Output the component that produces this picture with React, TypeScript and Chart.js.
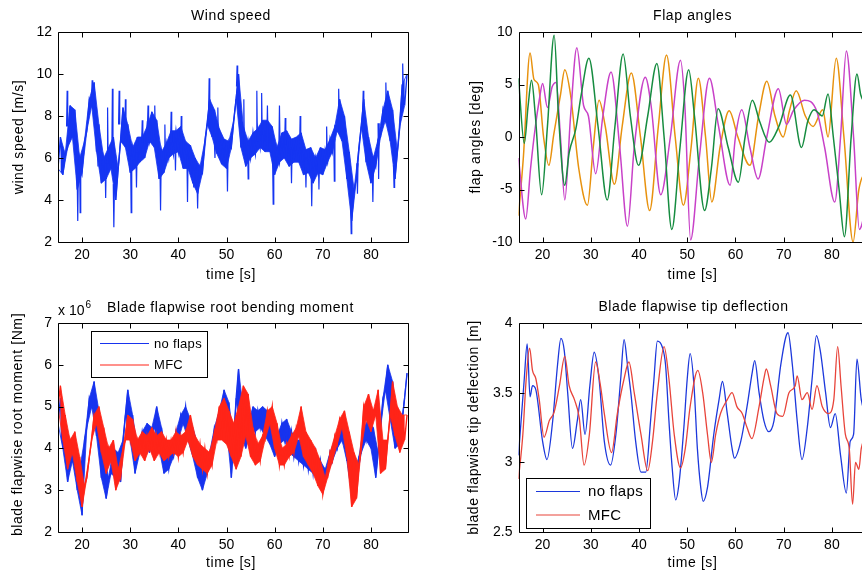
import React, { useEffect, useRef } from "react";
import { Chart, registerables } from "chart.js";

Chart.register(...registerables);

const FONT = '"Liberation Sans", Arial, Helvetica, sans-serif';

// ---------- shared time axis ----------
const timeMin = 15;
const timeMax = 87.7;
const timeTicks = [20, 30, 40, 50, 60, 70, 80];

// ---------- wind speed: core band low/high every 1 s from t = 15, plus the spikes ----------
const windStart = 15;
const windLow = [
  5.5, 5.2, 6.5, 7.0, 4.5, 5.3, 7.3, 8.5, 6.3, 4.8,
  5.0, 5.5, 4.0, 6.8, 6.5, 5.3, 5.5, 5.8, 6.0, 6.8,
  6.5, 5.0, 5.3, 6.0, 6.2, 6.3, 5.5, 5.5, 4.8, 4.3,
  5.3, 7.6, 7.0, 6.2, 5.7, 5.5, 6.5, 8.8, 6.5, 5.6,
  6.0, 6.2, 6.5, 6.3, 6.3, 5.2, 5.8, 6.0, 5.6, 5.8,
  5.8, 5.2, 5.3, 4.8, 5.3, 5.2, 5.8, 6.3, 7.3, 6.8,
  5.0, 3.0, 5.0, 7.5, 5.8, 4.8, 5.6, 7.0, 7.8, 6.8,
  5.0, 7.5, 8.5,
];
const windHigh = [
  7.0, 6.2, 8.5, 8.3, 6.0, 6.8, 8.8, 9.6, 7.6, 6.0,
  6.5, 7.0, 5.5, 8.4, 7.6, 6.5, 7.0, 7.0, 7.5, 8.2,
  7.8, 6.3, 6.7, 7.3, 7.3, 7.5, 6.8, 6.6, 6.0, 5.6,
  6.8, 8.8, 8.3, 7.4, 6.9, 6.8, 7.8, 10.0, 7.5, 6.8,
  7.2, 7.4, 7.8, 7.8, 7.5, 6.5, 7.2, 7.3, 6.9, 7.0,
  7.2, 6.4, 6.5, 6.0, 6.5, 6.4, 6.9, 7.5, 8.8, 8.0,
  6.3, 4.5, 6.5, 8.8, 7.0, 6.0, 6.9, 8.3, 9.2, 8.3,
  6.3, 9.5, 10.0,
];
const windSpikeT = [16.9, 19.1, 19.6, 22.1, 23.3, 24.9, 25.3, 26.3, 26.6, 27.7, 29.0, 30.2, 31.3, 32.5, 33.7, 35.1, 36.3, 37.2, 38.5, 39.4, 40.6, 41.9, 43.2, 44.0, 46.4, 47.6, 48.2, 50.2, 52.2, 53.6, 54.5, 56.3, 57.3, 58.5, 59.7, 61.0, 62.2, 63.5, 65.3, 66.5, 67.7, 69.2, 70.8, 72.4, 73.3, 75.9, 77.2, 78.4, 80.4, 81.6, 83.1, 84.8, 86.6];
const windSpikeV = [9.2, 3.0, 3.4, 9.7, 5.6, 4.1, 8.4, 9.3, 2.7, 9.2, 8.8, 3.4, 4.6, 7.8, 8.5, 8.5, 3.5, 7.6, 8.2, 5.4, 8.0, 3.9, 4.6, 3.6, 9.8, 6.0, 8.4, 4.4, 10.4, 8.8, 5.0, 9.2, 9.1, 8.5, 3.8, 8.5, 7.9, 4.8, 8.0, 4.6, 3.7, 4.5, 7.5, 4.9, 9.3, 2.4, 4.3, 9.2, 3.9, 5.0, 9.6, 4.6, 10.5];
const windTicks = [2, 4, 6, 8, 10, 12];

// ---------- flap angles (turning points) ----------
const flapOrangeT = [15, 16, 17.4, 18.2, 19.1, 20.2, 21.3, 22.3, 23.7, 24.6, 25.8, 27.5, 29.3, 30.5, 31.7, 33, 34.9, 36.5, 38.4, 40.3, 42.2, 44, 45.7, 47.5, 49.2, 50.8, 52.3, 53.8, 55.1, 56.8, 58.7, 60.5, 63, 64.8, 66.5, 68.2, 69.9, 71.2, 72.6, 74.5, 76.1, 78.1, 79.2, 80.9, 82.5, 84.4, 85.6, 87.7];
const flapOrangeV = [-7.5, -2, 8.0, 5.5, 5.0, 0, -2.7, 0.2, 4, 6.4, 4, -3, -6.5, -1, 3.5, 1, -4.5, 1, 6.1, 0, -7, 1, 7.8, 0, -6.5, -1, 5.6, 0, -6.2, -1, 2.5, 0, -2.7, 2, 5.3, 2, 0, 2.5, 4.4, 2, 1, 2.6, 0, 7.5, 0, -10, -5, -3];
const flapMagentaT = [15, 16.5, 17.5, 18.5, 19.3, 20, 21, 22, 22.8, 23.7, 24.6, 25.8, 27.1, 28.5, 29.5, 31, 32.5, 34.2, 36, 37.6, 39, 41.3, 42.5, 44.5, 46.5, 48.6, 49.5, 50.7, 52.5, 54.6, 56.5, 58.9, 60, 61.3, 63, 64.7, 66.5, 68.9, 70.6, 72, 74.3, 76.9, 78.5, 80.6, 81.8, 83, 84.5, 85.7, 87.7];
const flapMagentaV = [-2, -7.8, -3, 1, 3.5, 5.1, 2.8, 4.8, 5.2, 0, -6, 2, 8.5, 3, 2, -3.5, 2, 6.2, -1, -8.5, -1, 5.7, 3, -5.5, 0, 7.3, 3, -9.8, -2, 5.6, 1, -4.6, 0, 2.6, -1, -4, 0, 4.6, 1.2, 2.5, 3.5, 2.4, -1, -6.2, 0, 8.2, 0, -8.8, -5];
const flapGreenT = [15, 16.2, 17, 17.7, 18.5, 19.8, 21, 22.4, 23.3, 24.6, 25.5, 26.9, 28, 29.6, 31.5, 33.4, 35, 36.7, 38.2, 39.9, 41.8, 43.7, 45.2, 46.8, 48.5, 50.3, 51.5, 53.6, 55, 56.4, 58.5, 60.6, 62, 63.5, 65, 67, 69, 71.4, 73.7, 75, 76.3, 78, 79.2, 80.3, 81.5, 82.6, 84, 85.2, 86, 87.7];
const flapGreenV = [5.6, -0.6, 3, 5.4, 2, -5.5, 1, 9.7, 2, -4.6, -1.5, 0.8, 4, 7.5, 1, -6, 1, 7.9, 2, -2.7, 2, 7, 0, -8.8, -1, 6.4, 2, -7, -3, 2.7, -1, -4.3, 0, 3.5, 1.5, -0.5, 1, 4.0, -1, 1.5, 2.6, 2, 4.1, 0, -5, -9.5, 0, 6, 4, 2.9];
const flapTicks = [-10, -5, 0, 5, 10];

// ---------- root bending moment, x 10^6 Nm (every 0.5 s, alternating band low/high) ----------
const momentStart = 15;
const momentStep = 0.5;
const momentNoFlaps = [
  4.6, 5.2, 4.0, 4.5, 3.2, 3.8, 3.7, 4.3, 3.0, 3.5,
  2.4, 4.2, 4.5, 5.2, 5.0, 5.6, 4.3, 4.9, 3.3, 3.9,
  2.8, 3.3, 3.4, 4.0, 3.3, 3.9, 3.2, 4.2, 4.8, 5.4,
  4.2, 4.8, 3.4, 4.0, 3.9, 4.4, 4.1, 4.6, 3.9, 4.5,
  4.5, 5.0, 4.0, 4.5, 3.4, 3.9, 3.5, 4.0, 3.8, 4.4,
  4.2, 4.8, 4.6, 5.0, 4.2, 4.7, 3.8, 4.3, 3.3, 3.8,
  3.0, 3.5, 3.4, 3.9, 3.9, 4.5, 4.3, 4.9, 4.9, 5.4,
  4.5, 5.1, 3.3, 4.2, 5.2, 5.9, 4.3, 4.9, 4.0, 4.6,
  4.4, 5.0, 4.4, 4.9, 4.5, 5.0, 4.3, 4.9, 4.1, 4.6,
  3.8, 4.3, 4.1, 4.6, 4.2, 4.7, 3.9, 4.4, 3.8, 4.2,
  3.7, 4.2, 3.6, 4.1, 3.5, 4.0, 3.4, 3.9, 3.3, 3.7,
  3.0, 3.5, 3.4, 3.9, 3.7, 4.2, 4.0, 4.5, 4.2, 4.7,
  3.7, 4.2, 2.9, 3.4, 3.2, 3.8, 3.9, 4.5, 4.2, 4.7,
  4.0, 4.5, 3.3, 3.9, 4.5, 5.2, 5.4, 6.0, 4.7, 5.6,
  4.0, 4.5, 4.1, 4.7, 5.2, 5.8,
];
const momentMFC = [
  5.0, 5.5, 4.2, 4.8, 3.5, 4.2, 3.9, 4.4, 3.2, 3.8,
  2.6, 3.1, 3.3, 3.8, 4.2, 4.8, 4.6, 5.0, 3.9, 4.5,
  3.4, 4.0, 3.7, 4.2, 3.0, 3.5, 3.3, 4.0, 4.2, 4.8,
  4.2, 4.7, 3.7, 4.2, 3.9, 4.4, 3.7, 4.3, 4.0, 4.5,
  3.7, 4.3, 3.9, 4.4, 3.7, 4.2, 3.8, 4.2, 3.9, 4.4,
  3.8, 4.3, 3.9, 4.4, 4.2, 4.8, 3.8, 4.3, 3.6, 4.1,
  3.5, 4.0, 3.4, 3.9, 3.6, 4.4, 4.2, 5.0, 4.2, 5.2,
  4.1, 4.9, 3.8, 4.6, 3.5, 5.0, 3.8, 5.5, 4.3, 5.3,
  3.8, 4.5, 3.6, 4.1, 3.7, 4.3, 4.2, 4.9, 4.6, 5.0,
  4.0, 4.6, 3.6, 4.0, 3.6, 4.1, 3.8, 4.3, 3.9, 4.5,
  4.3, 5.0, 3.8, 4.4, 3.6, 4.2, 3.4, 4.0, 3.1, 3.7,
  2.9, 3.3, 3.3, 3.9, 3.7, 4.3, 4.1, 4.7, 4.5, 4.9,
  3.8, 4.4, 2.6, 3.9, 2.8, 3.6, 4.0, 5.0, 4.7, 5.3,
  4.4, 4.9, 4.8, 5.4, 3.4, 4.2, 3.5, 4.2, 4.8, 5.6,
  4.3, 5.0, 3.9, 4.8, 4.2, 4.8,
];
const momentTicks = [2, 3, 4, 5, 6, 7];
const legendLabels = ["no flaps", "MFC"];

// ---------- tip deflection, m (turning points) ----------
const tipNoFlapsT = [15, 16.2, 16.8, 17.4, 17.9, 18.6, 20, 20.9, 22.1, 23.1, 23.8, 24.5, 25.2, 26.2, 27.2, 27.9, 28.8, 29.8, 30.7, 31.7, 32.8, 34.1, 35.2, 36.2, 36.9, 37.6, 38.3, 39.3, 40.4, 41.4, 42.4, 43.1, 43.8, 44.8, 45.5, 46.2, 46.9, 47.6, 48.3, 49.3, 50, 50.6, 51.4, 52.1, 52.8, 53.3, 54.2, 55.5, 56.6, 57.3, 58.3, 59.3, 59.8, 61.1, 62.4, 63.5, 64, 64.9, 65.9, 66.9, 68, 69.4, 70.9, 71.8, 72.8, 73.8, 74.9, 75.9, 76.8, 77.6, 78.7, 79.7, 80.7, 81.8, 83, 83.8, 84.5, 85.2, 86.1, 87.7];
const tipNoFlapsV = [3.05, 3.6, 3.85, 3.47, 3.55, 3.52, 3.15, 3.02, 3.3, 3.7, 3.89, 3.8, 3.5, 3.1, 3.3, 3.45, 3.2, 3.55, 3.79, 3.6, 3.15, 2.98, 3.2, 3.6, 3.88, 3.7, 3.5, 3.15, 2.93, 2.93, 3.3, 3.6, 3.87, 3.83, 3.7, 3.3, 2.95, 2.73, 2.85, 3.25, 3.6, 3.78, 3.55, 3.1, 2.82, 2.72, 2.82, 3.2, 3.45, 3.58, 3.35, 3.1, 3.03, 3.15, 3.4, 3.65, 3.73, 3.5, 3.3, 3.22, 3.3, 3.7, 3.93, 3.7, 3.3, 3.02, 3.25, 3.6, 3.91, 3.8, 3.5, 3.25, 3.35, 3.05, 2.78, 3.15, 3.2, 3.74, 3.45, 3.3];
const tipMFCT = [15, 15.9, 16.6, 17.3, 17.9, 18.6, 19.3, 20.3, 21.4, 22.4, 23.5, 24.6, 25.5, 26.6, 27.6, 28.6, 29.7, 31, 32, 32.8, 34.3, 35.5, 36.9, 37.9, 39, 40.4, 41.8, 42.8, 43.8, 45.2, 46.2, 47.3, 48.6, 49.6, 50.6, 52.2, 53.2, 54.2, 55, 55.9, 56.9, 58.3, 59.3, 60.3, 61.4, 62.4, 63.4, 64.9, 65.9, 66.4, 67.3, 68.6, 69.8, 71.1, 72.4, 72.8, 73.8, 74.9, 75.9, 76.9, 78, 79.3, 80.4, 81.2, 81.9, 82.8, 83.6, 84.3, 84.9, 85.6, 86.1, 87.7];
const tipMFCV = [2.88, 3.2, 3.6, 3.82, 3.66, 3.6, 3.45, 3.18, 3.3, 3.36, 3.55, 3.76, 3.55, 3.45, 3.32, 2.98, 3.2, 3.72, 3.55, 3.35, 3.07, 3.35, 3.6, 3.72, 3.5, 3.2, 2.94, 3.15, 3.5, 3.83, 3.6, 3.2, 2.96, 3.1, 3.4, 3.66, 3.5, 3.2, 3.0, 3.2, 3.35, 3.45, 3.5, 3.4, 3.35, 3.25, 3.17, 3.4, 3.6, 3.67, 3.55, 3.35, 3.33, 3.5, 3.55, 3.62, 3.45, 3.5, 3.38, 3.55, 3.4, 3.35, 3.45, 3.83, 3.55, 3.2, 3.1, 2.7, 3.0, 2.95, 3.1, 3.2];
const tipTicks = [2.5, 3, 3.5, 4];

// ---------- helpers ----------
const onGrid = (start: number, step: number, values: number[]) =>
  values.map((y, i) => ({ x: start + i * step, y }));
const paired = (t: number[], v: number[]) => t.map((x, i) => ({ x, y: v[i] }));
const everyOther = (pts: any[], parity: number) => pts.filter((_p, i) => i % 2 === parity);
// band drawn as a dense zig-zag: low at t, high half a second later
const bandZigzag = (start: number, low: number[], high: number[]) => {
  const pts: any[] = [];
  low.forEach((lo, i) => {
    pts.push({ x: start + i, y: lo });
    pts.push({ x: start + i + 0.5, y: high[i] });
  });
  return pts;
};
// spikes: thin excursions from the band to the read spike value
const spikes = (start: number, low: number[], high: number[], t: number[], v: number[]) => {
  const pts: any[] = [];
  t.forEach((x, i) => {
    const k = Math.min(low.length - 1, Math.max(0, Math.round(x - start)));
    const base = (low[k] + high[k]) / 2;
    pts.push({ x: x - 0.12, y: base });
    pts.push({ x, y: v[i] });
    pts.push({ x: x + 0.12, y: base });
    pts.push({ x: x + 0.13, y: null });
  });
  return pts;
};

const decorPlugin = {
  id: "decor",
  afterDraw(chart: any, _args: any, o: any) {
    const { ctx, chartArea: a, scales } = chart;
    const L = Math.round(a.left) + 0.5;
    const R = Math.round(a.right) + 0.5;
    const T = Math.round(a.top) + 0.5;
    const B = Math.round(a.bottom) + 0.5;
    ctx.save();
    ctx.strokeStyle = "#000";
    ctx.lineWidth = 1;
    ctx.beginPath();
    ctx.rect(L, T, R - L, B - T);
    const tl = 5;
    scales.x.ticks.forEach((t: any) => {
      const px = Math.round(scales.x.getPixelForValue(t.value)) + 0.5;
      ctx.moveTo(px, B);
      ctx.lineTo(px, B - tl);
      ctx.moveTo(px, T);
      ctx.lineTo(px, T + tl);
    });
    scales.y.ticks.forEach((t: any) => {
      const py = Math.round(scales.y.getPixelForValue(t.value)) + 0.5;
      ctx.moveTo(L, py);
      ctx.lineTo(L + tl, py);
      ctx.moveTo(R, py);
      ctx.lineTo(R - tl, py);
    });
    ctx.stroke();

    ctx.fillStyle = "#000";
    ctx.font = `14px ${FONT}`;
    (ctx as any).letterSpacing = "0.6px";
    ctx.textAlign = "center";
    ctx.textBaseline = "alphabetic";
    ctx.fillText(o.title, o.titleX, o.titleY);
    ctx.fillText(o.xLabel, o.xLabelX, o.xLabelY);
    ctx.save();
    ctx.translate(o.yLabelX, (a.top + a.bottom) / 2 + (o.yLabelDy || 0));
    ctx.rotate(-Math.PI / 2);
    ctx.textBaseline = "middle";
    ctx.fillText(o.yLabel, 0, 0);
    ctx.restore();

    if (o.exponent) {
      (ctx as any).letterSpacing = "0px";
      ctx.textAlign = "left";
      ctx.font = `14px ${FONT}`;
      ctx.fillText(o.exponent.base, o.exponent.x, o.exponent.y);
      const w = ctx.measureText(o.exponent.base).width;
      ctx.font = `10px ${FONT}`;
      ctx.fillText(o.exponent.power, o.exponent.x + w + 1, o.exponent.y - 7);
    }

    if (o.legend) {
      const lg = o.legend;
      (ctx as any).letterSpacing = "0.3px";
      ctx.fillStyle = "#fff";
      ctx.fillRect(lg.x, lg.y, lg.w, lg.h);
      ctx.strokeStyle = "#000";
      ctx.lineWidth = 1;
      ctx.strokeRect(lg.x + 0.5, lg.y + 0.5, lg.w, lg.h);
      lg.items.forEach((it: any, i: number) => {
        const y = lg.rows[i];
        ctx.strokeStyle = it.color;
        ctx.lineWidth = 1.2;
        ctx.beginPath();
        ctx.moveTo(lg.lineX1, y + 0.5);
        ctx.lineTo(lg.lineX2, y + 0.5);
        ctx.stroke();
        ctx.fillStyle = "#000";
        ctx.font = `${lg.fontSize}px ${FONT}`;
        ctx.textAlign = "left";
        ctx.textBaseline = "middle";
        ctx.fillText(it.label, lg.textX, y + 1);
      });
    }
    ctx.restore();
  },
};

type Area = { left: number; top: number; right: number; bottom: number };

function makeConfig(spec: any) {
  const { width, height, area } = spec;
  const tickFont = { family: FONT, size: 14 };
  return {
    type: "line",
    data: { datasets: spec.datasets },
    plugins: [decorPlugin],
    options: {
      animation: false,
      responsive: false,
      events: [],
      spanGaps: false,
      layout: { padding: { top: area.top, right: width - area.right, left: 0, bottom: 0 } },
      plugins: {
        legend: { display: false },
        tooltip: { enabled: false },
        title: { display: false },
        filler: { propagate: false },
        decor: spec.decor,
      },
      elements: { point: { radius: 0 } },
      scales: {
        x: {
          type: "linear",
          min: timeMin,
          max: timeMax,
          grid: { display: false, drawTicks: false },
          border: { display: false },
          ticks: {
            font: tickFont,
            color: "#000",
            padding: 5,
            maxRotation: 0,
            autoSkip: false,
            callback: (v: any) => String(v),
          },
          afterBuildTicks: (s: any) => {
            s.ticks = timeTicks.map((value) => ({ value }));
          },
          afterFit: (s: any) => {
            s.height = height - area.bottom;
          },
        },
        y: {
          type: "linear",
          min: spec.yMin,
          max: spec.yMax,
          grid: { display: false, drawTicks: false },
          border: { display: false },
          ticks: {
            font: tickFont,
            color: "#000",
            padding: 6,
            autoSkip: false,
            callback: (v: any) => String(v),
          },
          afterBuildTicks: (s: any) => {
            s.ticks = spec.yTicks.map((value: number) => ({ value }));
          },
          afterFit: (s: any) => {
            s.width = area.left;
          },
        },
      },
    },
  };
}

function Panel({ spec }: { spec: any }) {
  const ref = useRef<HTMLCanvasElement>(null);
  useEffect(() => {
    const chart = new Chart(ref.current as HTMLCanvasElement, makeConfig(spec) as any);
    return () => chart.destroy();
  }, []);
  return (
    <div style={{ position: "absolute", left: spec.left, top: spec.top, width: spec.width, height: spec.height }}>
      <canvas ref={ref} width={spec.width} height={spec.height} style={{ display: "block", width: spec.width, height: spec.height }} />
    </div>
  );
}

const line = (data: any[], color: string, width: number, order: number, smooth = false) => ({
  data,
  order,
  borderColor: color,
  backgroundColor: color,
  borderWidth: width,
  pointRadius: 0,
  fill: false,
  clip: 0,
  spanGaps: false,
  tension: smooth ? 0.4 : 0,
  cubicInterpolationMode: smooth ? "monotone" : "default",
  borderJoinStyle: "miter",
});
// two envelope lines with the area between them filled, then the noisy zig-zag on top
const band = (low: any[], high: any[], zig: any[], color: string, width: number, order: number) => [
  { ...line(low, color, 0.8, order + 2) },
  { ...line(high, color, 0.8, order + 1), fill: "-1" },
  line(zig, color, width, order),
];

const BLUE = "#1733ee";
const RED = "#ff2418";
const WIND = "#1535f2";

const areaLeftCol: Area = { left: 58, top: 32, right: 408, bottom: 242 };
const areaRightCol: Area = { left: 87.5, top: 32, right: 438, bottom: 242 };
const areaLeftColB: Area = { left: 58, top: 33, right: 408, bottom: 242 };
const areaRightColB: Area = { left: 87.5, top: 33, right: 438, bottom: 242 };

const windZig = bandZigzag(windStart, windLow, windHigh);
const blueZig = onGrid(momentStart, momentStep, momentNoFlaps);
const redZig = onGrid(momentStart, momentStep, momentMFC);

const panels = [
  {
    key: "wind",
    left: 0, top: 0, width: 431, height: 290,
    area: areaLeftCol,
    yMin: 2, yMax: 12, yTicks: windTicks,
    datasets: [
      ...band(everyOther(windZig, 0), everyOther(windZig, 1), windZig, WIND, 1.4, 2),
      line(spikes(windStart, windLow, windHigh, windSpikeT, windSpikeV), WIND, 1.2, 1),
    ],
    decor: {
      title: "Wind speed", titleX: 231, titleY: 20,
      xLabel: "time [s]", xLabelX: 231, xLabelY: 279,
      yLabel: "wind speed [m/s]", yLabelX: 19,
    },
  },
  {
    key: "flap",
    left: 431, top: 0, width: 450, height: 290,
    area: areaRightCol,
    yMin: -10, yMax: 10, yTicks: flapTicks,
    datasets: [
      line(paired(flapOrangeT, flapOrangeV), "#e8920e", 1.5, 3, true),
      line(paired(flapMagentaT, flapMagentaV), "#c841c8", 1.5, 2, true),
      line(paired(flapGreenT, flapGreenV), "#168c40", 1.5, 1, true),
    ],
    decor: {
      title: "Flap angles", titleX: 261.5, titleY: 20,
      xLabel: "time [s]", xLabelX: 261.5, xLabelY: 279,
      yLabel: "flap angles [deg]", yLabelX: 45,
    },
  },
  {
    key: "moment",
    left: 0, top: 290, width: 431, height: 289,
    area: areaLeftColB,
    yMin: 2, yMax: 7, yTicks: momentTicks,
    datasets: [
      ...band(everyOther(blueZig, 0), everyOther(blueZig, 1), blueZig, BLUE, 1.4, 10),
      ...band(everyOther(redZig, 0), everyOther(redZig, 1), redZig, RED, 1.4, 1),
    ],
    decor: {
      title: "Blade flapwise root bending moment", titleX: 230.5, titleY: 21.5,
      xLabel: "time [s]", xLabelX: 231, xLabelY: 277,
      yLabel: "blade flapwise root moment [Nm]", yLabelX: 18, yLabelDy: -3,
      exponent: { base: "x 10", power: "6", x: 58, y: 25 },
      legend: {
        x: 91, y: 41, w: 116, h: 46, lineX1: 100, lineX2: 149, textX: 154, rows: [53, 74.5], fontSize: 13,
        items: [{ label: legendLabels[0], color: BLUE }, { label: legendLabels[1], color: RED }],
      },
    },
  },
  {
    key: "tip",
    left: 431, top: 290, width: 450, height: 289,
    area: areaRightColB,
    yMin: 2.5, yMax: 4, yTicks: tipTicks,
    datasets: [
      line(paired(tipNoFlapsT, tipNoFlapsV), "#1c38dc", 1.3, 2, true),
      line(paired(tipMFCT, tipMFCV), "#e8443a", 1.3, 1, true),
    ],
    decor: {
      title: "Blade flapwise tip deflection", titleX: 262.5, titleY: 20.5,
      xLabel: "time [s]", xLabelX: 261.5, xLabelY: 277,
      yLabel: "blade flapwise tip deflection [m]", yLabelX: 43.5,
      legend: {
        x: 95, y: 188, w: 124, h: 50, lineX1: 105, lineX2: 149, textX: 157, rows: [201, 224.5], fontSize: 15,
        items: [{ label: legendLabels[0], color: "#1c38dc" }, { label: legendLabels[1], color: "#e8443a" }],
      },
    },
  },
];

export default function App() {
  return (
    <div style={{ position: "fixed", left: 0, top: 0, width: 862, height: 579, overflow: "hidden", background: "#fff" }}>
      {panels.map((p) => (
        <Panel key={p.key} spec={p} />
      ))}
    </div>
  );
}
